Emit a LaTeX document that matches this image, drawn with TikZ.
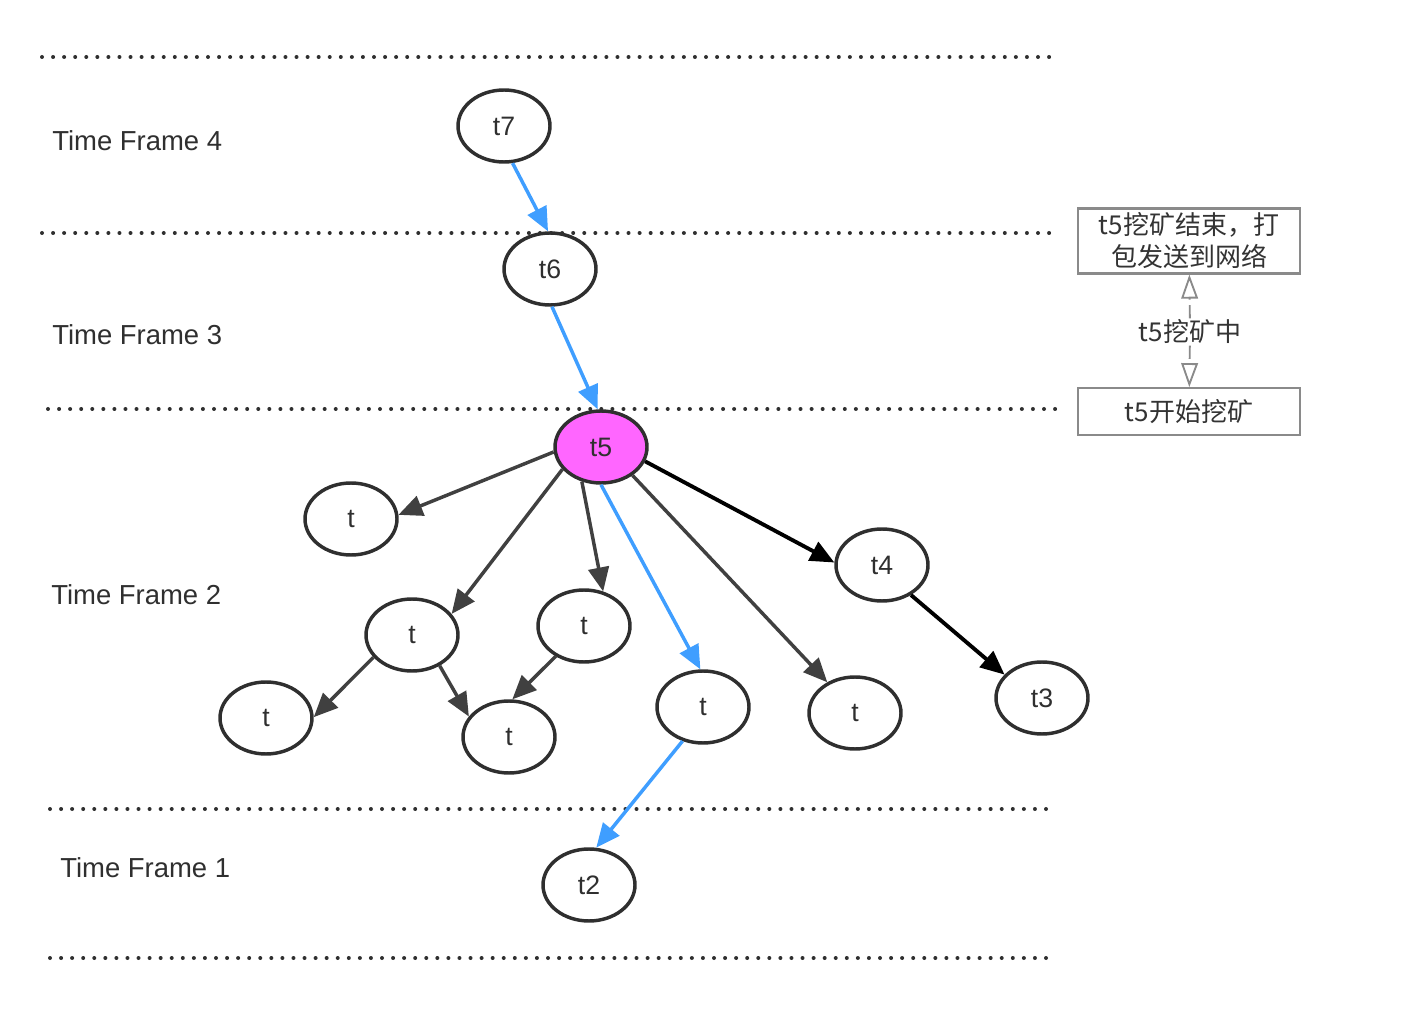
\documentclass[tikz,border=0pt]{standalone}
\usepackage{fontspec}
\setmainfont{Liberation Sans}
\newfontfamily\cjk{Noto Sans CJK SC}
\usepackage{tikz}
\usetikzlibrary{arrows.meta,shapes.geometric}
\definecolor{cInk}{HTML}{2F2F2F}
\definecolor{cEdge}{HTML}{404040}
\definecolor{cBlue}{HTML}{3F9EFF}
\definecolor{cMine}{HTML}{FF66FF}
\definecolor{cNote}{HTML}{8A8A8A}
\tikzset{
  tx/.style    = {ellipse, draw=cInk, line width=2.6pt, fill=white,
                  minimum width=69pt, minimum height=54pt, inner sep=0pt,
                  font=\fontsize{20}{23}\selectfont, text=cInk},
  mined/.style = {tx, fill=cMine},
  frame/.style = {anchor=west, inner sep=0pt, font=\fontsize{20.6}{24}\selectfont, text=cInk},
  sep/.style   = {draw=cInk, line width=3pt, line cap=round,
                  dash pattern=on 0pt off 8.3pt},
  link/.style  = {-{Triangle[length=18pt, width=15.5pt]}, line width=2.6pt},
  side/.style  = {link, draw=cEdge},
  main/.style  = {link, draw=black, line width=2.9pt},
  chain/.style = {link, draw=cBlue},
  state/.style = {draw=cNote, line width=1.6pt, minimum width=166.5pt,
                  align=center, font=\cjk\fontsize{19.5}{24}\selectfont, text=black!80},
  phase/.style = {-{Triangle[open, length=18pt, width=12.5pt]}, draw=cNote,
                  line width=1.4pt, dash pattern=on 10pt off 4pt},
}

\begin{document}
\begin{tikzpicture}[x=0.75pt, y=-0.75pt]
  \useasboundingbox (0,0) rectangle (1404,1012);
  % time frame borders
  \foreach \y/\a/\b in {57/42/1055, 233/42/1058, 409/48/1060, 809/50/1055, 958/50/1055}
    \draw[sep] (\a,\y) -- (\b,\y);
  \node[frame] (f4) at (52,141) {Time Frame 4};
  \node[frame] (f3) at (52,335) {Time Frame 3};
  \node[frame] (f2) at (51,595) {Time Frame 2};
  \node[frame] (f1) at (60,868) {Time Frame 1};
  % blocks
  \node[tx]    (t7) at (504,126) {t7};
  \node[tx]    (t6) at (550,269) {t6};
  \node[mined] (t5) at (601,447) {t5};
  \node[tx]    (ua) at (351,519) {t};
  \node[tx]    (t4) at (882,565) {t4};
  \node[tx]    (ub) at (412,635) {t};
  \node[tx]    (uc) at (584,626) {t};
  \node[tx]    (ud) at (266,718) {t};
  \node[tx]    (ue) at (509,737) {t};
  \node[tx]    (uv) at (703,707) {t};
  \node[tx]    (uf) at (855,713) {t};
  \node[tx]    (t3) at (1042,698) {t3};
  \node[tx]    (t2) at (589,885) {t2};
  % links
  \draw[chain] (t7.-77) -- (t6.93);
  \draw[chain] (t6.-87) -- (t5.95);
  \draw[chain] (t5.270) -- (uv.94);
  \draw[chain] (uv.239) -- (t2.79);
  \draw[main] (t5.-18) -- (t4.177);
  \draw[main] (t4.-46) -- (t3.148);
  \draw[side] (t5.186) -- (ua.5);
  \draw[side] (t5.210) -- (ub.28);
  \draw[side] (t5.241) -- (uc.61);
  \draw[side] (t5.-42) -- (uf.132);
  \draw[side] (ub.210) -- (ud.1);
  \draw[side] (ub.-48) -- (ue.153);
  \draw[side] (uc.227) -- (ue.85);
  % mining of t5
  \node[state, minimum height=48pt] (done) at (1189,241) {t5挖矿结束，打\\包发送到网络};
  \node[state, minimum height=35pt] (start) at (1189,411.5) {t5开始挖矿};
  \node[font=\cjk\fontsize{19.5}{24}\selectfont, text=black!80, inner sep=1pt] (mining) at (1190,332) {t5挖矿中};
  \draw[phase] (mining) -- (done);
  \draw[phase] (mining) -- (start);
\end{tikzpicture}
\end{document}
